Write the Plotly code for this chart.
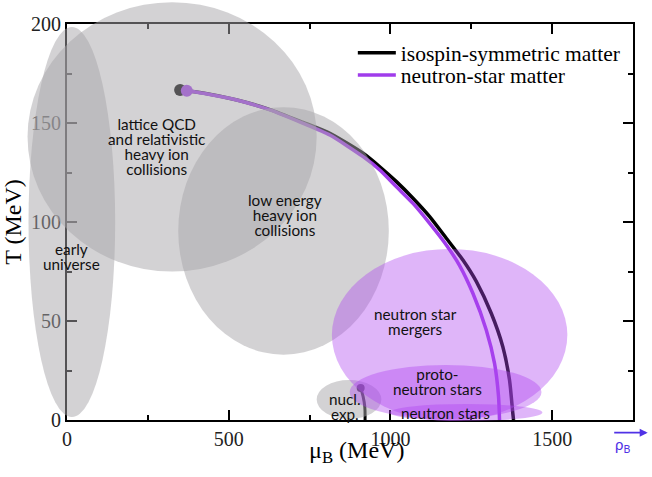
import plotly.graph_objects as go

# ---------------- data ----------------
# phase boundary, isospin-symmetric matter (mu_B in MeV, T in MeV)
mu_iso = [349.7, 420.7, 525.6, 627.5, 730.2, 812.7, 915.4, 967.0, 1018.5, 1069.8,
          1121.3, 1172.8, 1224.1, 1265.4, 1311.7, 1347.5, 1368.2, 1378.4, 1380.6]
T_iso = [166.7, 165.2, 161.6, 156.8, 150.3, 144.8, 134.7, 127.9, 120.4, 112.0,
         102.7, 91.8, 80.8, 70.0, 53.9, 37.0, 20.2, 3.4, 0.0]

# phase boundary, neutron-star matter
mu_ns = [370.4, 421.6, 524.7, 627.5, 730.2, 812.7, 915.4, 967.0, 1018.5, 1069.8,
         1121.3, 1172.8, 1213.9, 1254.9, 1296.3, 1321.9, 1334.3, 1337.3]
T_ns = [166.3, 165.0, 161.6, 156.6, 149.8, 143.9, 133.0, 126.3, 117.8, 109.4,
        99.3, 88.4, 78.0, 64.0, 45.5, 28.6, 11.8, 0.0]

# nuclear liquid-gas transition
mu_lg = [908.0, 915.6, 920.7, 921.6]
T_lg = [16.2, 11.8, 6.7, 0.0]

# regions of the phase diagram probed by experiments / astrophysics
region_names = ["early universe", "lattice QCD", "low energy HIC", "nucl. exp.",
                "neutron star mergers", "proto-neutron stars", "neutron stars"]
region_mu_min = [-119, -122, 344, 772, 819, 874, 998]
region_mu_max = [149, 772, 995, 972, 1547, 1467, 1470]
region_T_min = [1.5, 75, 33, 0.5, -0.5, 0.5, -0.5]
region_T_max = [198.5, 211, 158, 20.2, 86.4, 27.8, 8.1]
region_kind = ["gray", "gray", "gray", "gray", "purple", "purple", "purple"]

# region labels
label_texts = ["lattice QCD<br>and relativistic<br>heavy ion<br>collisions",
               "low energy<br>heavy ion<br>collisions",
               "early<br>universe",
               "neutron star<br>mergers",
               "proto-<br>neutron stars",
               "neutron stars",
               "nucl.<br>exp."]
label_mu = [276, 674, 15, 1077, 1147, 1171, 859]
label_T = [138, 103.3, 82.8, 49.7, 19.3, 3.4, 7]

X_RANGE = [0, 1750]
Y_RANGE = [0, 200]

# ---------------- figure ----------------
BLACK = "#000000"
PURPLE = "rgb(160,60,235)"
BLUE = "rgb(80,50,230)"
fills = {"gray": "rgba(168,166,170,0.5)", "purple": "rgba(175,70,240,0.4)"}

fig = go.Figure()
fig.add_trace(go.Scatter(x=mu_iso, y=T_iso, mode="lines",
                         line=dict(color=BLACK, width=3.5, shape="spline", smoothing=0.6),
                         name="isospin-symmetric matter", legend="legend"))
fig.add_trace(go.Scatter(x=mu_ns, y=T_ns, mode="lines",
                         line=dict(color=PURPLE, width=3.5, shape="spline", smoothing=0.6),
                         name="neutron-star matter", legend="legend2"))
fig.add_trace(go.Scatter(x=mu_lg, y=T_lg, mode="lines", line=dict(color=BLACK, width=3, shape="spline"),
                         showlegend=False))
fig.add_trace(go.Scatter(x=[mu_iso[0]], y=[T_iso[0]], mode="markers",
                         marker=dict(color=BLACK, size=12), showlegend=False))
fig.add_trace(go.Scatter(x=[mu_ns[0]], y=[T_ns[0]], mode="markers",
                         marker=dict(color=PURPLE, size=12), showlegend=False))
fig.add_trace(go.Scatter(x=[mu_lg[0]], y=[T_lg[0]], mode="markers",
                         marker=dict(color=BLACK, size=8), showlegend=False))


def px(v):
    return (v - X_RANGE[0]) / (X_RANGE[1] - X_RANGE[0])


def py(v):
    return (v - Y_RANGE[0]) / (Y_RANGE[1] - Y_RANGE[0])


for i in range(len(region_names)):
    fig.add_shape(type="circle", xref="paper", yref="paper",
                  x0=px(region_mu_min[i]), x1=px(region_mu_max[i]),
                  y0=py(region_T_min[i]), y1=py(region_T_max[i]),
                  fillcolor=fills[region_kind[i]], line=dict(width=0), layer="above")

# labels: small base font keeps line spacing tight, glyphs drawn larger via span style
for t, xm, yt in zip(label_texts, label_mu, label_T):
    styled = "<br>".join('<span style="font-size:15.3px">%s</span>' % ln for ln in t.split("<br>"))
    fig.add_annotation(x=xm, y=yt, xref="x", yref="y", text=styled, showarrow=False,
                       font=dict(family="Lato", size=11.5, color="#111111"), align="center")

# rho_B arrow
fig.add_annotation(x=1.026, y=-0.032, xref="paper", yref="paper", ax=-35, ay=0,
                   text="", showarrow=True, arrowhead=2, arrowsize=1, arrowwidth=1.6,
                   arrowcolor=BLUE)
fig.add_annotation(x=0.998, y=-0.062, xref="paper", yref="paper", text="ρ<sub>B</sub>",
                   showarrow=False, yanchor="middle",
                   font=dict(family="Lato", size=15, color=BLUE))

# x-axis title
fig.add_annotation(x=0.512, y=-0.081, xref="paper", yref="paper", text="μ<sub>B</sub> (MeV)",
                   showarrow=False, yanchor="middle",
                   font=dict(family="Liberation Serif", size=24, color="black"))

axis_common = dict(showgrid=False, zeroline=False, showline=True, linecolor="black", linewidth=2,
                   mirror="ticks", ticks="inside", ticklen=10, tickwidth=1.5, tickcolor="black",
                   automargin=False,
                   tickfont=dict(family="Liberation Serif", size=20, color="#222222"))

legend_common = dict(xanchor="left", yanchor="middle", bgcolor="rgba(0,0,0,0)",
                     font=dict(family="Liberation Serif", size=21.5, color="black"), itemwidth=38)

fig.update_layout(
    width=652, height=477,
    margin=dict(l=67, r=19, t=24, b=57),
    paper_bgcolor="white", plot_bgcolor="white",
    xaxis=dict(range=X_RANGE, dtick=500, tick0=0,
               minor=dict(dtick=250, ticks="inside", ticklen=5, tickcolor="black", tickwidth=1.5),
               **axis_common),
    yaxis=dict(range=Y_RANGE, dtick=50, tick0=0,
               minor=dict(dtick=25, ticks="inside", ticklen=5, tickcolor="black", tickwidth=1.5),
               title=dict(text="T (MeV)", font=dict(family="Liberation Serif", size=24, color="black"),
                          standoff=3),
               **axis_common),
    legend=dict(x=0.505, y=0.9275, **legend_common),
    legend2=dict(x=0.505, y=0.871, **legend_common),
    showlegend=True,
)

fig.write_html("out.html", config={"displayModeBar": False},
               post_script="document.body.style.margin='0';")
